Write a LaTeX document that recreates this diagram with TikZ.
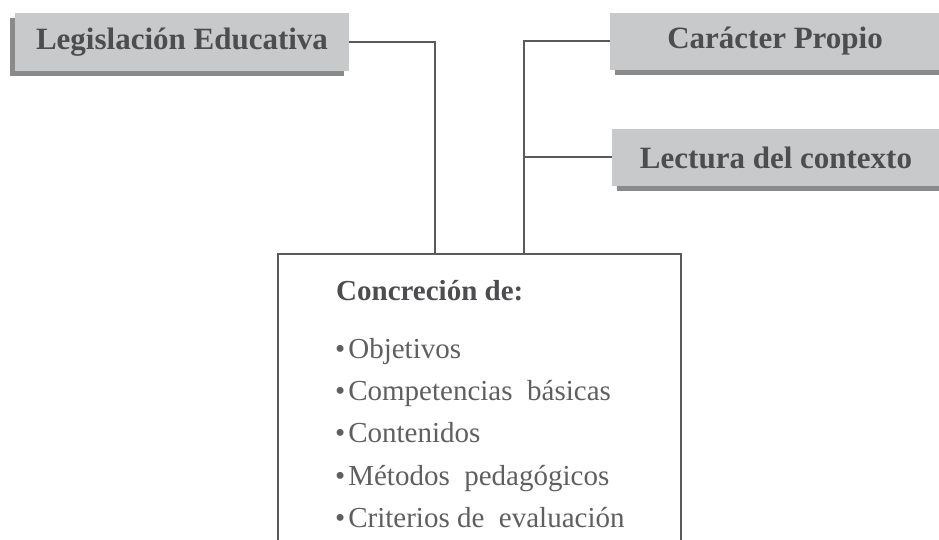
\documentclass[tikz,border=0pt]{standalone}
\usepackage{fontspec}
\setmainfont{Liberation Serif}
\usetikzlibrary{shadows}
\definecolor{boxgray}{HTML}{C8C9CB}
\definecolor{shadowgray}{HTML}{8A8A8A}
\definecolor{linegray}{HTML}{5A5A5A}
\definecolor{headtext}{HTML}{4D4D4F}
\definecolor{itemtext}{HTML}{5F5F61}
\tikzset{
  graybox/.style={fill=boxgray, inner sep=0pt, text=headtext,
    font=\fontsize{31}{36}\selectfont\bfseries},
  shadowleft/.style={drop shadow={shadow xshift=-5pt, shadow yshift=-5pt, fill=shadowgray, opacity=1}},
  shadowright/.style={drop shadow={shadow xshift=5pt, shadow yshift=-5pt, fill=shadowgray, opacity=1}},
  conn/.style={draw=linegray, line width=2pt},
  itemtxt/.style={anchor=base west, inner sep=0pt, text=itemtext, font=\fontsize{29}{34}\selectfont},
  headtxt/.style={anchor=base west, inner sep=0pt, text=headtext, font=\fontsize{29}{34}\selectfont\bfseries}
}
\newcommand{\itembul}{\textbullet\hspace{3pt}}
\begin{document}
\begin{tikzpicture}[x=1pt,y=-1pt]
\useasboundingbox (0,0) rectangle (939,540);
\node[graybox, shadowleft, minimum width=334pt, minimum height=58pt] (leg) at (182,42) {Legislación Educativa};
\node[graybox, shadowright, minimum width=330pt, minimum height=57pt] (car) at (775,41.5) {Carácter Propio};
\node[graybox, shadowright, minimum width=328pt, minimum height=57pt] (lec) at (776,157.5) {Lectura del\ contexto};
\node[minimum width=403pt, minimum height=286pt, inner sep=0pt, anchor=north west] (cbox) at (278,254) {};
\draw[conn] (cbox.south west) |- (cbox.north east) -- (cbox.south east);
\coordinate (j1) at (435,254);
\coordinate (j2) at (524,254);
\draw[conn] (leg.east) -| (j1);
\draw[conn] (car.west) -| (j2);
\draw[conn] (lec.west) -- (lec.west -| j2);
\node[headtxt] (t0) at (336,300) {Concreción de:};
\node[itemtxt] (t1) at (335,358) {\itembul Objetivos};
\node[itemtxt] (t2) at (335,400) {\itembul Competencias\ \ básicas};
\node[itemtxt] (t3) at (335,442) {\itembul Contenidos};
\node[itemtxt] (t4) at (335,485) {\itembul Métodos\ \ pedagógicos};
\node[itemtxt] (t5) at (335,527) {\itembul Criterios de\ \ evaluación};
\end{tikzpicture}
\end{document}
